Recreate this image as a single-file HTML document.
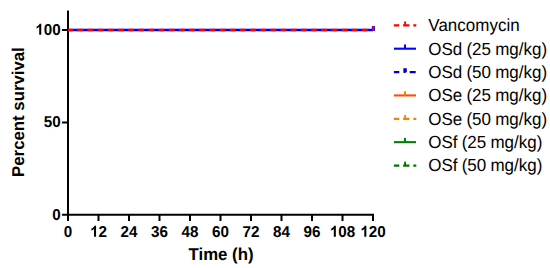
<!DOCTYPE html>
<html><head><meta charset="utf-8">
<style>
html,body{margin:0;padding:0;background:#fff;}
body{width:550px;height:268px;overflow:hidden;}
svg{display:block;}
text{font-family:"Liberation Sans",sans-serif;fill:#000;text-rendering:geometricPrecision;}
.b{font-weight:bold;}
.l{word-spacing:-0.6px;}
</style></head><body>
<svg width="550" height="268" viewBox="0 0 550 268">
<g stroke="#000" stroke-width="2" fill="none">
<path d="M68 10.5V216"/>
<path d="M67 214.85H374"/>
<path d="M62 30H68M62 122.5H68M62 214.85H68"/>
<path d="M68.0 215V221 M98.5 215V221 M129.0 215V221 M159.5 215V221 M190.0 215V221 M220.5 215V221 M251.0 215V221 M281.5 215V221 M312.0 215V221 M342.5 215V221 M373.0 215V221"/>
</g>
<text class="b" text-anchor="end" font-size="15.2" transform="translate(60.6 34.8) scale(1 1.035)">&#8199;00</text>
<text class="b" text-anchor="end" font-size="15.2" transform="translate(60.6 127.15) scale(1 1.035)">50</text>
<text class="b" text-anchor="end" font-size="15.2" transform="translate(60.6 219.65) scale(1 1.035)">0</text>
<text class="b" text-anchor="middle" font-size="15.2" transform="translate(68.0 236.85) scale(1 1.035)">0</text>
<text class="b" text-anchor="middle" font-size="15.2" transform="translate(98.5 236.85) scale(1 1.035)">&#8199;2</text>
<text class="b" text-anchor="middle" font-size="15.2" transform="translate(129.0 236.85) scale(1 1.035)">24</text>
<text class="b" text-anchor="middle" font-size="15.2" transform="translate(159.5 236.85) scale(1 1.035)">36</text>
<text class="b" text-anchor="middle" font-size="15.2" transform="translate(190.0 236.85) scale(1 1.035)">48</text>
<text class="b" text-anchor="middle" font-size="15.2" transform="translate(220.5 236.85) scale(1 1.035)">60</text>
<text class="b" text-anchor="middle" font-size="15.2" transform="translate(251.0 236.85) scale(1 1.035)">72</text>
<text class="b" text-anchor="middle" font-size="15.2" transform="translate(281.5 236.85) scale(1 1.035)">84</text>
<text class="b" text-anchor="middle" font-size="15.2" transform="translate(312.0 236.85) scale(1 1.035)">96</text>
<text class="b" text-anchor="middle" font-size="15.2" transform="translate(342.5 236.85) scale(1 1.035)">&#8199;08</text>
<text class="b" text-anchor="middle" font-size="15.2" transform="translate(373.0 236.85) scale(1 1.035)">&#8199;20</text>
<g fill="#000"><path d="M811 0H537V1032Q387 892 183 825V1073Q290 1108 416 1206Q542 1305 589 1436H811Z" transform="translate(90.046 236.85) scale(0.007422 -0.007682)"/><path d="M811 0H537V1032Q387 892 183 825V1073Q290 1108 416 1206Q542 1305 589 1436H811Z" transform="translate(329.820 236.85) scale(0.007422 -0.007682)"/><path d="M811 0H537V1032Q387 892 183 825V1073Q290 1108 416 1206Q542 1305 589 1436H811Z" transform="translate(360.320 236.85) scale(0.007422 -0.007682)"/><path d="M811 0H537V1032Q387 892 183 825V1073Q290 1108 416 1206Q542 1305 589 1436H811Z" transform="translate(35.239 34.8) scale(0.007422 -0.007682)"/></g>
<text class="b" text-anchor="middle" font-size="16.8" transform="translate(221 259.6) scale(1 1.02)">Time (h)</text>
<text class="b" text-anchor="middle" font-size="16.8" transform="translate(23.9 112.1) rotate(-90) scale(1 1.02)">Percent survival</text>
<path d="M68 29.95H372.9" stroke="#0000ff" stroke-width="2.4"/>
<path d="M67.9 29.95H372.9" stroke="#ff0000" stroke-width="2.4" stroke-dasharray="5.76 4.4" stroke-dashoffset="0.66"/>
<path d="M373.35 31V26" stroke="#0000ff" stroke-width="3.1"/>
<path d="M373.15 31V26" stroke="#ff0000" stroke-width="1.7"/>
<g stroke-width="2.5" fill="none">
<path d="M393.9 25.32H399.3M403.1 25.32H409.4M413.3 25.32H416.3" stroke="#ff0000" stroke-width="2.3"/><path d="M405.1 25.32V21.42" stroke="#ff0000" stroke-width="1.9"/>
<path d="M393.9 48.69H416" stroke="#0000ff" stroke-width="2.1"/><path d="M405.0 48.69V44.59" stroke="#0000ff" stroke-width="2"/>
<path d="M393.9 72.06H399.3M409.7 72.06H415.7" stroke="#0000c8" stroke-width="2.3"/><polygon points="403.27,68.26 406.74,68.26 406.86,71.97 404.94,73.01 403.50,73.01" fill="#0000c8"/>
<path d="M393.9 95.43H416" stroke="#ff5000" stroke-width="2.1"/><path d="M405.0 95.43V91.33" stroke="#ff8000" stroke-width="2"/>
<path d="M393.9 118.80H399.3M403.1 118.80H409.4M413.3 118.80H416.3" stroke="#ff8000" stroke-width="2.3"/><path d="M405.1 118.80V114.90" stroke="#ff8000" stroke-width="1.9"/>
<path d="M393.9 142.17H416" stroke="#008000" stroke-width="2.1"/><path d="M405.0 142.17V138.07" stroke="#008000" stroke-width="2"/>
<path d="M393.9 165.54H399.3M403.1 165.54H409.4M413.3 165.54H416.3" stroke="#007800" stroke-width="2.3"/><path d="M405.1 165.54V161.64" stroke="#007800" stroke-width="1.9"/>
</g>
<text class="l" text-anchor="start" font-size="17" transform="translate(428.3 31.2) scale(1 1.03)">Vancomycin</text>
<text class="l" text-anchor="start" font-size="17" transform="translate(428.3 54.57) scale(1 1.03)">OSd (25 mg/kg)</text>
<text class="l" text-anchor="start" font-size="17" transform="translate(428.3 77.94) scale(1 1.03)">OSd (50 mg/kg)</text>
<text class="l" text-anchor="start" font-size="17" transform="translate(428.3 101.31) scale(1 1.03)">OSe (25 mg/kg)</text>
<text class="l" text-anchor="start" font-size="17" transform="translate(428.3 124.68) scale(1 1.03)">OSe (50 mg/kg)</text>
<text class="l" text-anchor="start" font-size="17" transform="translate(428.3 148.05) scale(1 1.03)">OSf (25 mg/kg)</text>
<text class="l" text-anchor="start" font-size="17" transform="translate(428.3 171.42) scale(1 1.03)">OSf (50 mg/kg)</text>
</svg>
</body></html>
